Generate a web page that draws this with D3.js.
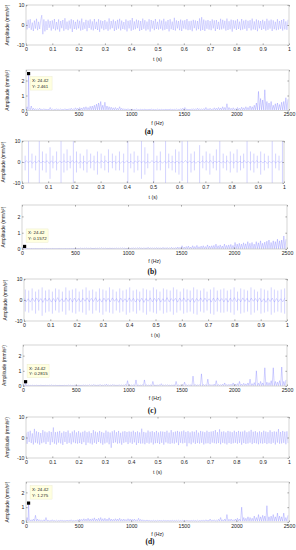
<!DOCTYPE html>
<html><head><meta charset="utf-8">
<script src="https://cdn.jsdelivr.net/npm/d3@7"></script>
<style>body{margin:0;background:#fff}svg{display:block}</style>
</head><body><svg id="c" width="296" height="550"></svg>
<script>
// ---------- DATA ----------
const timeTicks = [0,0.1,0.2,0.3,0.4,0.5,0.6,0.7,0.8,0.9,1];
const timeTickLabels = ["0","0.1","0.2","0.3","0.4","0.5","0.6","0.7","0.8","0.9","1"];
const ampTicks = [-10,0,10];
const ampTickLabels = ["-10","0","10"];
const freqTicks = [0,500,1000,1500,2000,2500];
const freqTickLabels = ["0","500","1000","1500","2000","2500"];
const specTicks = [0,1,2];
const specTickLabels = ["0","1","2"];
const captions = ["(a)","(b)","(c)","(d)"];
const yTitle = "Amplitude (mm/s²)";
const tXTitle = "t (s)";
const fXTitle = "f (Hz)";

const sampleStep = 0.004;   // s, signals (a),(d)
const baseStep = 0.008;     // s, baselines (b),(c)
const binStep = 20;         // Hz, spectra

const sigA = [
1.8,-2.2,2.6,-1.5,2.9,-2.4,1.2,-3.0,2.2,-1.8,3.1,-2.6,1.6,-2.0,2.4,4.9,-4.6,2.8,-3.2,1.9,-2.5,2.7,-1.4,2.0,-2.8,
2.3,-1.9,3.0,-2.7,1.5,-2.2,2.8,-3.3,2.0,-1.6,2.5,-2.9,3.4,-2.1,1.7,-2.6,2.2,-1.8,2.9,-3.5,2.4,-2.0,1.6,-2.3,2.7,
-1.7,2.1,-2.8,3.2,-2.4,1.4,-1.9,2.6,-3.1,2.2,-1.5,2.8,-2.3,1.8,-2.7,3.0,-2.0,1.6,-2.5,2.9,-3.4,2.3,-1.8,2.0,-2.6,
2.5,-2.1,1.7,-2.9,3.3,-2.2,2.0,-1.6,2.7,-3.0,1.9,-2.4,2.6,-1.8,3.1,-2.7,2.2,-2.0,1.5,-2.3,2.8,-3.2,2.1,-1.7,2.4,
-2.9,3.5,-2.4,1.8,-2.1,2.7,-1.6,2.3,-3.0,2.0,-2.5,3.2,-1.9,2.4,-2.8,1.7,-2.2,2.9,-3.3,2.5,-1.8,2.1,-2.6,3.0,-2.0,
1.6,-2.3,2.8,-1.9,2.2,-2.7,3.1,-2.4,1.8,-2.0,2.5,-3.2,2.9,-2.1,1.7,-2.5,3.6,-2.8,2.3,-1.7,2.0,-2.6,2.7,-3.0,2.2,
-1.8,2.4,-2.2,3.0,-2.6,1.9,-2.4,2.1,-3.1,2.6,-1.6,2.3,-2.7,2.0,-2.1,3.3,-2.9,3.9,-2.5,2.7,-3.0,2.2,-1.9,2.5,-2.3,
2.0,-2.6,2.8,-1.7,2.3,-3.0,2.5,-2.0,1.6,-2.4,3.1,-2.2,2.6,-1.8,2.1,-2.8,3.2,-2.5,1.9,-2.1,2.7,-3.3,2.4,-1.8,2.2,
-2.5,2.9,-2.0,1.7,-2.6,3.0,-2.3,2.2,-1.9,2.6,-2.9,2.1,-1.6,2.4,-2.7,3.2,-2.2,1.8,-2.4,2.8,-3.1,2.3,-1.7,2.0,-2.5,
2.6,-2.0,1.9,-2.8,3.1,-2.4,2.2,-1.8,2.7,-3.0,2.3,-2.1,1.6,-2.6,2.9,-2.3,2.0,-1.9,2.5,-2.8,3.0,-2.2,1.8,-2.4,2.6];

const sigD = [
2.4,-3.1,2.8,-2.2,3.3,-2.7,2.0,-3.4,4.2,-2.5,3.0,-2.9,2.6,-3.5,2.2,-2.8,3.6,-2.4,2.9,-3.2,2.5,-2.1,3.1,-3.6,2.7,
-2.3,4.9,-3.0,2.6,-3.4,2.8,-2.5,3.2,-2.9,2.3,-3.6,3.0,-2.2,2.7,-3.1,3.4,-2.6,2.1,-3.3,2.9,-2.4,3.5,-2.8,2.5,-3.0,
3.1,-2.7,2.4,-3.2,2.8,-2.3,3.3,-3.7,2.6,-2.5,3.0,-2.9,2.2,-3.4,3.6,-2.6,2.9,-3.1,2.5,-2.2,3.2,-2.8,2.7,-3.5,2.3,
-2.9,3.4,-2.5,2.8,-3.3,2.4,-5.0,3.0,-2.7,3.5,-2.4,2.6,-3.0,3.2,-2.8,2.3,-3.5,2.9,-2.6,3.1,-2.3,2.7,-3.2,3.0,-2.5,
2.8,-3.1,3.3,-2.4,2.6,-3.6,3.0,-2.7,2.5,-3.0,4.3,-2.9,2.7,-3.3,2.4,-2.6,3.4,-3.0,2.8,-2.5,3.1,-3.4,2.6,-2.8,3.2,
-2.7,2.5,-3.2,3.0,-2.6,2.9,-3.5,2.7,-2.4,3.3,-2.9,2.4,-3.1,3.6,-2.8,2.6,-3.0,2.9,-2.5,3.2,-3.7,2.8,-2.6,3.0,-2.9,
3.4,-2.6,2.7,-4.3,3.1,-2.8,2.5,-3.3,3.0,-2.5,2.8,-3.1,3.5,-2.7,2.4,-3.0,3.2,-2.6,2.9,-3.4,2.6,-2.9,3.3,-2.8,2.7,
-3.2,2.9,-2.5,3.1,-2.8,3.6,-3.0,2.6,-2.7,4.0,-3.3,2.8,-2.6,3.0,-2.9,2.5,-3.4,3.2,-2.7,2.9,-3.1,2.6,-2.8,3.3,-2.6,
2.7,-3.0,3.2,-2.6,2.8,-3.5,2.9,-2.7,3.4,-3.1,2.6,-2.9,3.0,-2.5,3.7,-3.2,2.8,-2.7,3.1,-2.9,2.5,-3.3,3.0,-2.8,2.6,
-3.0,3.3,-2.7,2.9,-3.2,2.6,-2.8,3.5,-3.1,2.7,-2.6,3.0,-3.4,2.8,-2.5,4.1,-3.0,2.7,-2.9,3.2,-2.6,2.8,-3.3,3.0,-2.7];

const baseB = [
0.4,-0.5,0.6,-0.3,0.5,-0.6,0.3,-0.4,0.7,-0.5,0.4,-0.3,0.6,-0.7,0.5,-0.4,0.3,-0.6,0.5,-0.4,0.6,-0.3,0.4,-0.5,0.7,
-0.4,0.5,-0.6,0.3,-0.5,0.4,-0.7,0.6,-0.3,0.5,-0.4,0.3,-0.5,0.6,-0.4,0.7,-0.5,0.4,-0.3,0.5,-0.6,0.4,-0.5,0.3,-0.4,
0.6,-0.5,0.4,-0.7,0.5,-0.3,0.6,-0.4,0.5,-0.6,0.3,-0.5,0.7,-0.4,0.4,-0.3,0.5,-0.6,0.4,-0.5,0.6,-0.4,0.3,-0.5,0.5,
-0.6,0.4,-0.3,0.7,-0.5,0.5,-0.4,0.3,-0.6,0.4,-0.5,0.6,-0.3,0.5,-0.4,0.7,-0.6,0.4,-0.3,0.5,-0.5,0.3,-0.4,0.6,-0.5,
0.4,-0.6,0.5,-0.3,0.4,-0.5,0.7,-0.4,0.3,-0.6,0.5,-0.4,0.6,-0.3,0.4,-0.5,0.5,-0.7,0.3,-0.4,0.6,-0.5,0.4,-0.3,0.5];
const impBT = [
0.012,0.025,0.038,0.052,0.066,0.078,0.092,0.107,0.118,0.132,
0.149,0.160,0.172,0.184,0.196,0.208,0.222,0.235,0.248,0.262,
0.275,0.288,0.302,0.316,0.330,0.345,0.358,0.372,0.388,0.404,
0.415,0.428,0.442,0.456,0.469,0.480,0.503,0.515,0.528,0.548,
0.560,0.573,0.586,0.599,0.611,0.632,0.645,0.658,0.678,0.690,
0.703,0.717,0.730,0.742,0.755,0.768,0.781,0.795,0.808,0.821,
0.834,0.846,0.859,0.872,0.885,0.898,0.911,0.925,0.940,0.955,
0.968,0.981,0.994];
const impBUp = [
3,10,4,3,10,5,4,7,3,5, 10,4,6,3,10,5,4,3,6,4, 3,5,4,3,6,4,3,5,4,10, 4,5,3,10,7,4,10,3,5,10,
4,3,6,5,10,10,4,5,8,3, 5,4,3,6,10,4,3,5,4,6, 3,4,10,5,4,3,5,4,3,10, 4,3,10];
const impBDn = [
-4,-10,-3,-4,-10,-4,-5,-8,-3,-4, -10,-5,-4,-3,-10,-5,-3,-4,-5,-3, -4,-6,-3,-4,-5,-3,-4,-4,-5,-10,
-3,-5,-4,-8,-6,-3,-10,-4,-4,-10, -3,-4,-5,-6,-9,-10,-5,-4,-10,-3, -4,-6,-3,-4,-10,-3,-4,-5,-3,-5,
-4,-3,-10,-4,-5,-3,-6,-4,-3,-10, -3,-4,-10];

const baseC = [
0.8,-0.9,0.6,-1.0,0.9,-0.7,1.0,-0.8,0.7,-1.1,0.9,-0.6,0.8,-1.0,0.7,-0.9,1.1,-0.8,0.6,-0.9,1.0,-0.7,0.8,-1.0,0.9,
-0.8,0.7,-1.0,0.9,-0.6,1.0,-0.9,0.8,-0.7,1.1,-0.8,0.6,-1.0,0.9,-0.7,0.8,-0.9,1.0,-0.6,0.7,-1.1,0.9,-0.8,0.6,-0.9,
1.0,-0.7,0.8,-1.0,0.6,-0.8,0.9,-1.1,0.7,-0.6,1.0,-0.9,0.8,-0.7,0.9,-1.0,0.6,-0.8,1.1,-0.9,0.7,-0.6,0.8,-1.0,0.9,
-0.7,1.0,-0.8,0.6,-0.9,0.8,-1.1,0.7,-0.6,1.0,-0.8,0.9,-0.7,0.6,-1.0,0.9,-0.8,1.0,-0.6,0.7,-0.9,0.8,-1.0,0.9,-0.7,
1.1,-0.8,0.6,-0.9,1.0,-0.7,0.8,-1.0,0.9,-0.6,0.7,-0.8,1.0,-0.9,0.6,-1.1,0.8,-0.7,0.9,-1.0,0.7,-0.8,0.6,-0.9,1.0];
const impCT = [
0.005,0.018,0.031,0.044,0.056,0.069,0.082,0.095,0.108,0.120,
0.133,0.146,0.159,0.172,0.184,0.197,0.210,0.223,0.236,0.248,
0.261,0.274,0.287,0.300,0.312,0.325,0.338,0.351,0.364,0.376,
0.389,0.402,0.415,0.428,0.440,0.453,0.466,0.479,0.492,0.504,
0.517,0.530,0.543,0.556,0.568,0.581,0.594,0.607,0.620,0.632,
0.645,0.658,0.671,0.684,0.696,0.709,0.722,0.735,0.748,0.760,
0.773,0.786,0.799,0.812,0.824,0.837,0.850,0.863,0.876,0.888,
0.901,0.914,0.927,0.940,0.952,0.965,0.978,0.991];
const impCUp = [
5,4.5,5.5,4,5,6,4.5,5,4,5.5, 5,4,6,4.5,5,5.5,4,5,6,4.5, 5,4,5.5,5,4.5,6,5,4,5.5,4.5,
5,6,4.5,5,4,5.5,5,4.5,6,5, 4,5.5,5,4.5,6,5,4,5.5,5,4.5, 6,5,4.5,5.5,4,5,6,4.5,5,5.5,
4.5,5,6,4,5.5,5,4.5,6,5,4, 5.5,5,4.5,6,5,4.5,5,5.5];
const impCDn = [
-5.5,-6,-5,-6.5,-5,-7.5,-6,-5.5,-6.5,-5, -6,-5.5,-7,-5,-6,-6.5,-5.5,-6,-7,-5,
-6.5,-5,-6,-7,-5.5,-6,-6.5,-5,-6,-5.5, -7,-6,-5.5,-6.5,-5,-6,-7,-5.5,-6,-6.5,
-5,-6.5,-6,-5.5,-7,-6,-5,-6.5,-6,-5.5, -6.5,-7,-5.5,-6,-5,-6.5,-7,-5.5,-6,-6,
-5.5,-6,-7,-5,-6.5,-6,-5.5,-7,-6,-5, -6.5,-6,-5.5,-7,-6,-5.5,-6,-6.5];

const specA = [
0.25,0.2,0.3,0.15,0.12,0.1,0.15,0.08,0.12,0.1,0.08,0.2,0.1,0.07,0.12,0.08,0.1,0.07,0.12,0.09,0.12,0.15,0.1,0.18,0.15,
0.2,0.17,0.22,0.25,0.2,0.28,0.3,0.35,0.42,0.5,0.6,0.35,0.55,0.3,0.25,0.22,0.18,0.2,0.15,0.25,0.15,0.12,0.1,0.12,0.08,
0.08,0.07,0.1,0.06,0.08,0.07,0.09,0.06,0.08,0.1,0.07,0.06,0.09,0.07,0.08,0.06,0.08,0.07,0.1,0.07,0.08,0.1,0.07,0.12,0.15,
0.2,0.1,0.08,0.1,0.12,0.1,0.15,0.12,0.1,0.13,0.2,0.12,0.15,0.1,0.18,0.15,0.2,0.17,0.25,0.2,0.45,0.2,0.15,0.18,0.12,
0.2,0.15,0.22,0.18,0.25,0.2,0.3,0.25,0.35,0.5,1.27,0.8,0.7,1.38,0.6,0.5,0.6,0.35,0.45,0.5,0.4,0.55,0.6,0.85,0.75];
const specB = [
0.04,0.05,0.03,0.02,0.03,0.02,0.03,0.02,0.02,0.03,0.02,0.03,0.02,0.02,0.03,0.02,0.02,0.03,0.02,0.02,0.03,0.02,0.03,0.03,0.04,
0.05,0.04,0.06,0.04,0.05,0.06,0.05,0.07,0.05,0.06,0.05,0.06,0.07,0.05,0.06,0.05,0.07,0.06,0.05,0.06,0.05,0.06,0.07,0.06,0.05,
0.07,0.06,0.08,0.06,0.07,0.09,0.06,0.08,0.07,0.1,0.07,0.08,0.06,0.09,0.08,0.07,0.1,0.08,0.09,0.07,0.1,0.08,0.09,0.12,0.1,
0.2,0.12,0.15,0.18,0.12,0.2,0.15,0.22,0.14,0.18,0.2,0.15,0.25,0.18,0.2,0.22,0.3,0.2,0.25,0.18,0.3,0.22,0.25,0.28,0.22,
0.4,0.3,0.35,0.3,0.38,0.32,0.45,0.35,0.4,0.3,0.45,0.38,0.5,0.35,0.42,0.48,0.55,0.4,0.5,0.45,0.6,0.5,0.55,0.8,0.6];
const specC = [
0.05,0.04,0.06,0.04,0.05,0.04,0.05,0.04,0.06,0.04,0.05,0.04,0.05,0.06,0.04,0.05,0.04,0.05,0.04,0.05,0.04,0.06,0.05,0.04,0.05,
0.05,0.06,0.05,0.07,0.06,0.05,0.08,0.06,0.1,0.06,0.07,0.1,0.06,0.08,0.12,0.07,0.06,0.1,0.07,0.06,0.08,0.07,0.06,0.1,0.35,
0.06,0.07,0.08,0.4,0.07,0.06,0.08,0.4,0.07,0.06,0.07,0.3,0.06,0.07,0.08,0.15,0.06,0.07,0.08,0.06,0.07,0.08,0.3,0.07,0.06,
0.08,0.25,0.07,0.09,0.08,0.65,0.1,0.08,0.09,0.8,0.1,0.09,0.45,0.1,0.09,0.12,0.35,0.1,0.09,0.12,0.2,0.1,0.11,0.12,0.2,
0.12,0.15,0.3,0.12,0.18,0.14,0.2,0.45,0.15,0.22,1.0,0.18,0.3,0.2,1.2,0.25,0.22,0.35,1.2,0.3,0.25,0.35,1.25,0.3,0.4];
const specD = [
0.3,0.2,0.15,0.2,0.45,0.2,0.15,0.12,0.15,0.3,0.12,0.1,0.15,0.1,0.12,0.1,0.14,0.11,0.1,0.13,0.12,0.15,0.1,0.13,0.15,
0.2,0.18,0.22,0.2,0.25,0.2,0.22,0.28,0.2,0.25,0.3,0.22,0.25,0.2,0.28,0.2,0.18,0.22,0.2,0.25,0.18,0.2,0.17,0.22,0.2,
0.18,0.2,0.15,0.25,0.17,0.15,0.12,0.14,0.12,0.1,0.12,0.1,0.11,0.13,0.1,0.12,0.1,0.11,0.1,0.12,0.1,0.11,0.12,0.1,0.12,
0.1,0.12,0.1,0.11,0.13,0.1,0.12,0.1,0.14,0.12,0.15,0.12,0.2,0.13,0.15,0.12,0.18,0.3,0.15,0.2,0.5,0.18,0.2,0.15,0.2,
0.25,0.2,1.0,0.3,0.25,0.35,0.3,0.25,0.4,0.3,0.5,0.35,0.45,0.4,1.1,0.35,0.4,0.5,0.35,0.6,0.4,0.35,0.6,0.3,0.45];
const specFloor = [0.04,0.01,0.02,0.06];
const tipX = [24.42,24.42,24.42,24.42];
const tipY = [2.461,0.1572,0.2815,1.275];
const tipYText = ["2.461","0.1572","0.2815","1.275"];
const tipXText = ["24.42","24.42","24.42","24.42"];

// ---------- LAYOUT ----------
const layout = [
  {t:[26,289,5,45],  s:[26,289,70,110.5], cap:[149,133.5], tip:"below"},
  {t:[22,284,141,183], s:[22,287,205,249], cap:[152,273.5], tip:"above"},
  {t:[24,287,279,321], s:[23,287,345,386], cap:[152,412.5], tip:"above"},
  {t:[26,289,417,458], s:[26,289,482,522], cap:[150,544], tip:"above"}
];
const specMax = 2.7;
const lineColor = "#6a6aff";
const FONT = "'Liberation Sans', Arial, sans-serif";

const svg = d3.select("#c");
const defs = svg.append("defs");

function frame(g, x, y, xt, xl, yt, yl, xTitle, titleGap, id) {
  const [x0,x1] = x.range(), [yb,yt0] = y.range();
  defs.append("clipPath").attr("id", id).append("rect")
    .attr("x", x0).attr("y", yt0).attr("width", x1-x0).attr("height", yb-yt0);
  const style = sel => {
    sel.select(".domain").remove();
    sel.selectAll(".tick line").attr("stroke","#333").attr("stroke-width",0.5);
    sel.selectAll(".tick text").attr("font-size",5.2).attr("fill","#222").attr("font-family",FONT);
  };
  g.append("g").attr("transform",`translate(0,${yb})`)
    .call(d3.axisBottom(x).tickValues(xt).tickFormat((d,i)=>xl[i]).tickSize(-1.5).tickPadding(2.2)).call(style);
  g.append("g").attr("transform",`translate(0,${yt0})`)
    .call(d3.axisTop(x).tickValues(xt).tickFormat("").tickSize(-1.5)).call(style);
  g.append("g").attr("transform",`translate(${x0},0)`)
    .call(d3.axisLeft(y).tickValues(yt).tickFormat((d,i)=>yl[i]).tickSize(-1.5).tickPadding(1.5)).call(style);
  g.append("g").attr("transform",`translate(${x1},0)`)
    .call(d3.axisRight(y).tickValues(yt).tickFormat("").tickSize(-1.5)).call(style);
  g.append("rect").attr("x",x0).attr("y",yt0).attr("width",x1-x0).attr("height",yb-yt0)
    .attr("fill","none").attr("stroke","#b8b8b8").attr("stroke-width",0.6);
  g.append("text").attr("x",(x0+x1)/2).attr("y",yb+titleGap).attr("text-anchor","middle")
    .attr("font-size",5.2).attr("font-family",FONT).attr("fill","#222").text(xTitle);
  g.append("text").attr("transform",`translate(${x0-17},${(yb+yt0)/2}) rotate(-90)`)
    .attr("text-anchor","middle").attr("font-size",5).attr("font-family",FONT).attr("fill","#222").text(yTitle);
}

const timeSig = [
  {samples:sigA, step:sampleStep},
  {samples:baseB, step:baseStep, impT:impBT, impUp:impBUp, impDn:impBDn},
  {samples:baseC, step:baseStep, impT:impCT, impUp:impCUp, impDn:impCDn},
  {samples:sigD, step:sampleStep}
];
const specs = [specA, specB, specC, specD];

layout.forEach((L, k) => {
  // ---- time panel
  const [tx0,tx1,ty0,ty1] = L.t;
  const x = d3.scaleLinear().domain([0,1]).range([tx0,tx1]);
  const y = d3.scaleLinear().domain([-10,10]).range([ty1,ty0]);
  const g = svg.append("g");
  const cid = "ct"+k;
  const plot = g.append("g").attr("clip-path",`url(#${cid})`);
  frame(g, x, y, timeTicks, timeTickLabels, ampTicks, ampTickLabels, tXTitle, 16, cid);
  const S = timeSig[k];
  if (S.impT) {
    plot.append("g").selectAll("line").data(S.impT).join("line")
      .attr("x1",d=>x(d)).attr("x2",d=>x(d))
      .attr("y1",(d,i)=>y(S.impUp[i])).attr("y2",(d,i)=>y(S.impDn[i]))
      .attr("stroke",lineColor).attr("stroke-opacity",0.5).attr("stroke-width",0.6);
  }
  plot.append("path").datum(S.samples)
    .attr("d", d3.line().x((d,i)=>x(i*S.step)).y(d=>y(d)))
    .attr("fill","none").attr("stroke",lineColor).attr("stroke-opacity",0.5).attr("stroke-width",0.5);

  // ---- spectrum panel
  const [sx0,sx1,sy0,sy1] = L.s;
  const fx = d3.scaleLinear().domain([0,2500]).range([sx0,sx1]);
  const fy = d3.scaleLinear().domain([0,specMax]).range([sy1,sy0]);
  const g2 = svg.append("g");
  const cid2 = "cs"+k;
  const plot2 = g2.append("g").attr("clip-path",`url(#${cid2})`);
  frame(g2, fx, fy, freqTicks, freqTickLabels, specTicks, specTickLabels, fXTitle, 14, cid2);
  const pts = [];
  specs[k].forEach((v,i) => {
    pts.push([i*binStep, specFloor[k]]);
    pts.push([i*binStep + binStep/2, v]);
  });
  pts.push([tipX[k], tipY[k]]);
  pts.sort((a,b)=>a[0]-b[0]);
  plot2.append("path").datum(pts)
    .attr("d", d3.line().x(d=>fx(d[0])).y(d=>fy(d[1])))
    .attr("fill","none").attr("stroke",lineColor).attr("stroke-opacity",0.6).attr("stroke-width",0.5);

  // data tip
  const mx = fx(tipX[k]), my = fy(tipY[k]);
  const bx = mx + 1.5, bw = 22, bh = 13.5;
  const by = L.tip === "below" ? my + 3 : my - bh - 4;
  g2.append("rect").attr("x",bx).attr("y",by).attr("width",bw).attr("height",bh)
    .attr("fill","#ffffe0").attr("stroke","#e8e8c8").attr("stroke-width",0.4);
  g2.append("text").attr("x",bx+2).attr("y",by+5.3).attr("font-size",4.4).attr("font-family",FONT)
    .attr("fill","#222").text("X: "+tipXText[k]);
  g2.append("text").attr("x",bx+2).attr("y",by+11).attr("font-size",4.4).attr("font-family",FONT)
    .attr("fill","#222").text("Y: "+tipYText[k]);
  g2.append("rect").attr("x",mx-1.6).attr("y",my-1.6).attr("width",3.2).attr("height",3.2).attr("fill","#000");

  // caption
  svg.append("text").attr("x",L.cap[0]).attr("y",L.cap[1]).attr("text-anchor","middle")
    .attr("font-size",7.5).attr("font-weight","bold").attr("font-family","'Liberation Serif', 'Times New Roman', serif")
    .attr("fill","#111").text(captions[k]);
});
</script></body></html>
